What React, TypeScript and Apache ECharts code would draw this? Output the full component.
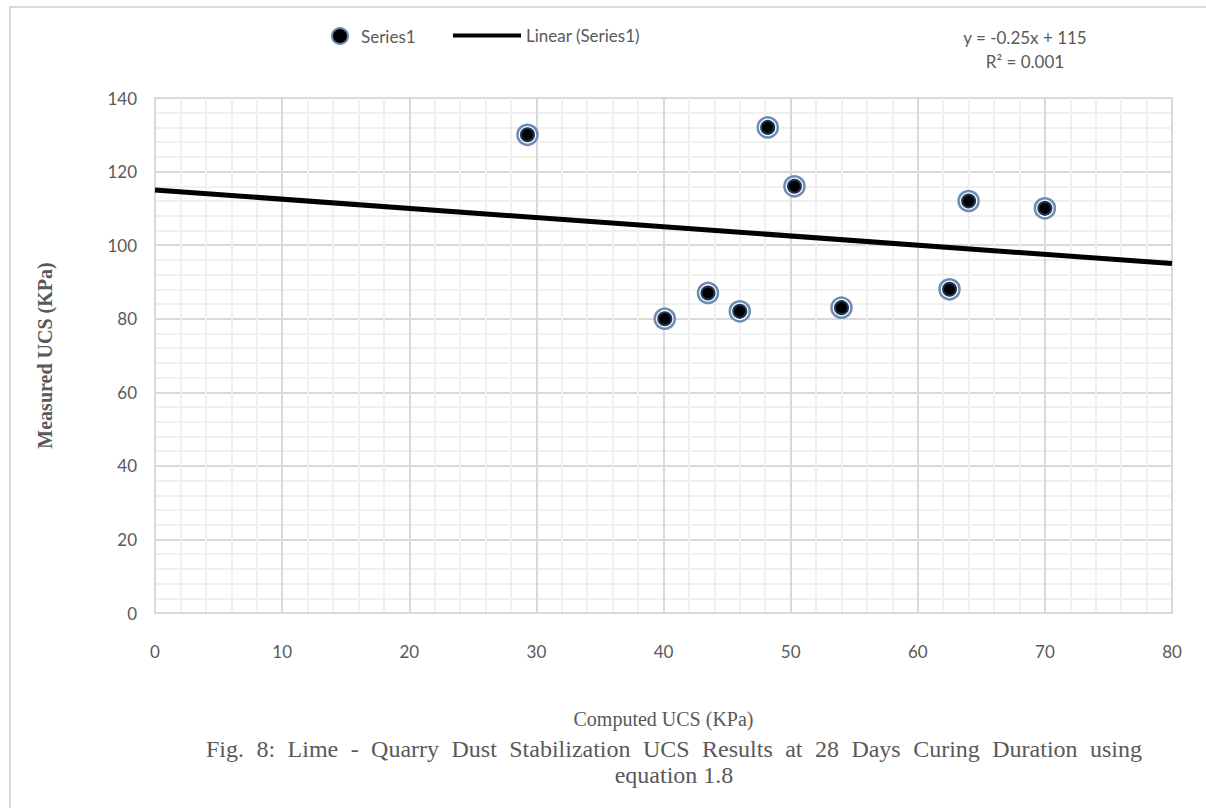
import React, { useEffect, useRef } from "react";
import * as echarts from "echarts";

const computedUCS = [29.3, 40.1, 43.5, 46.0, 48.2, 50.3, 54.0, 62.5, 64.0, 70.0];
const measuredUCS = [130, 80, 87, 82, 132, 116, 83, 88, 112, 110];
const trendSlope = -0.25;
const trendIntercept = 115;
const trendRange = [0, 80];
const xTicks = [0, 80, 10];
const yTicks = [0, 140, 20];
const captionLine1 = "Fig. 8: Lime - Quarry Dust Stabilization UCS Results at 28 Days Curing Duration using";
const captionLine2 = "equation 1.8";

const FONT = "Lato, 'Open Sans', sans-serif";
const SERIF = "'Liberation Serif', 'DejaVu Serif', serif";

function justifiedWords(text: string, left: number, right: number, y: number, size: number) {
  const canvas = document.createElement("canvas");
  const ctx = canvas.getContext("2d")!;
  ctx.font = `${size}px 'Liberation Serif'`;
  const words = text.split(" ");
  const widths = words.map((w) => ctx.measureText(w).width);
  const total = widths.reduce((a, b) => a + b, 0);
  const gap = (right - left - total) / (words.length - 1);
  let x = left;
  return words.map((w, i) => {
    const el = {
      type: "text",
      x,
      y,
      style: {
        text: w,
        fontFamily: SERIF,
        fontSize: size,
        fill: "#595959",
        textAlign: "left",
        textVerticalAlign: "middle",
      },
    };
    x += widths[i] + gap;
    return el;
  });
}

export default function App() {
  const ref = useRef<HTMLDivElement>(null);
  useEffect(() => {
    if (!ref.current) return;
    const chart = echarts.init(ref.current, null, { renderer: "svg" });
    const points = computedUCS.map((x, i) => [x, measuredUCS[i]]);
    const trend = trendRange.map((x) => [x, trendSlope * x + trendIntercept]);
    chart.setOption({
      animation: false,
      backgroundColor: "#ffffff",
      grid: { left: 155, right: 34, top: 98, bottom: 195 },
      legend: [
        {
          data: [
            {
              name: "Series1",
              icon: "circle",
              itemStyle: { color: "#000", borderColor: "#6c8cb4", borderWidth: 2 },
            },
          ],
          left: 326,
          top: 22,
          itemWidth: 16,
          itemHeight: 16,
          textStyle: { fontFamily: FONT, fontSize: 17, color: "#595959", padding: [0, 0, 0, 8] },
        },
        {
          data: [{ name: "Linear (Series1)", icon: "rect" }],
          left: 448,
          top: 22,
          itemWidth: 68,
          itemHeight: 4,
          textStyle: { fontFamily: FONT, fontSize: 17, color: "#595959" },
        },
      ],
      xAxis: {
        type: "value",
        min: xTicks[0],
        max: xTicks[1],
        interval: xTicks[2],
        axisLine: { show: true, lineStyle: { color: "#d9d9d9", width: 2 } },
        axisTick: { show: false },
        axisLabel: { fontFamily: FONT, fontSize: 17, color: "#595959", margin: 30 },
        splitLine: { show: true, lineStyle: { color: "#d9d9d9", width: 2 } },
        minorTick: { show: false, splitNumber: 5 },
        minorSplitLine: { show: true, lineStyle: { color: "#f0f0f0", width: 2 } },
        name: "Computed UCS (KPa)",
        nameLocation: "middle",
        nameGap: 96,
        nameTextStyle: { fontFamily: SERIF, fontSize: 20, color: "#595959" },
      },
      yAxis: {
        type: "value",
        min: yTicks[0],
        max: yTicks[1],
        interval: yTicks[2],
        axisLine: { show: true, lineStyle: { color: "#d9d9d9", width: 2 } },
        axisTick: { show: false },
        axisLabel: { fontFamily: FONT, fontSize: 17, color: "#595959", margin: 18 },
        splitLine: { show: true, lineStyle: { color: "#d9d9d9", width: 2 } },
        minorTick: { show: false, splitNumber: 5 },
        minorSplitLine: { show: true, lineStyle: { color: "#f0f0f0", width: 2 } },
        name: "Measured UCS (KPa)",
        nameLocation: "middle",
        nameGap: 100,
        nameTextStyle: { fontFamily: SERIF, fontSize: 20, fontWeight: "bold", color: "#595959" },
      },
      series: [
        {
          name: "ring",
          type: "scatter",
          data: points,
          symbol: "circle",
          symbolSize: 20,
          itemStyle: { color: "#ffffff", borderColor: "#6c8cb4", borderWidth: 2.5, opacity: 1 },
          z: 3,
        },
        {
          name: "Series1",
          type: "scatter",
          data: points,
          symbol: "circle",
          symbolSize: 13,
          itemStyle: { color: "#000000", borderColor: "#1f3556", borderWidth: 2, opacity: 1 },
          z: 4,
        },
        {
          name: "Linear (Series1)",
          type: "line",
          data: trend,
          showSymbol: false,
          lineStyle: { color: "#000000", width: 5 },
          itemStyle: { color: "#000000" },
          z: 2,
        },
      ],
      graphic: [
        {
          type: "rect",
          shape: { x: 10, y: 7, width: 1300, height: 900 },
          style: { fill: "none", stroke: "#d9d9d9", lineWidth: 2 },
          silent: true,
        },
        {
          type: "text",
          x: 1025,
          y: 37,
          style: {
            text: "y = -0.25x + 115",
            fontFamily: FONT,
            fontSize: 17,
            fill: "#595959",
            textAlign: "center",
            textVerticalAlign: "middle",
          },
        },
        {
          type: "text",
          x: 1025,
          y: 61,
          style: {
            text: "R² = 0.001",
            fontFamily: FONT,
            fontSize: 17,
            fill: "#595959",
            textAlign: "center",
            textVerticalAlign: "middle",
          },
        },
        ...justifiedWords(captionLine1, 206, 1142, 749, 24),
        {
          type: "text",
          x: 674,
          y: 775,
          style: {
            text: captionLine2,
            fontFamily: SERIF,
            fontSize: 24,
            fill: "#595959",
            textAlign: "center",
            textVerticalAlign: "middle",
          },
        },
      ],
    });
    return () => chart.dispose();
  }, []);
  return (
    <div
      ref={ref}
      style={{ position: "fixed", left: 0, top: 0, width: 1206, height: 808 }}
    />
  );
}
